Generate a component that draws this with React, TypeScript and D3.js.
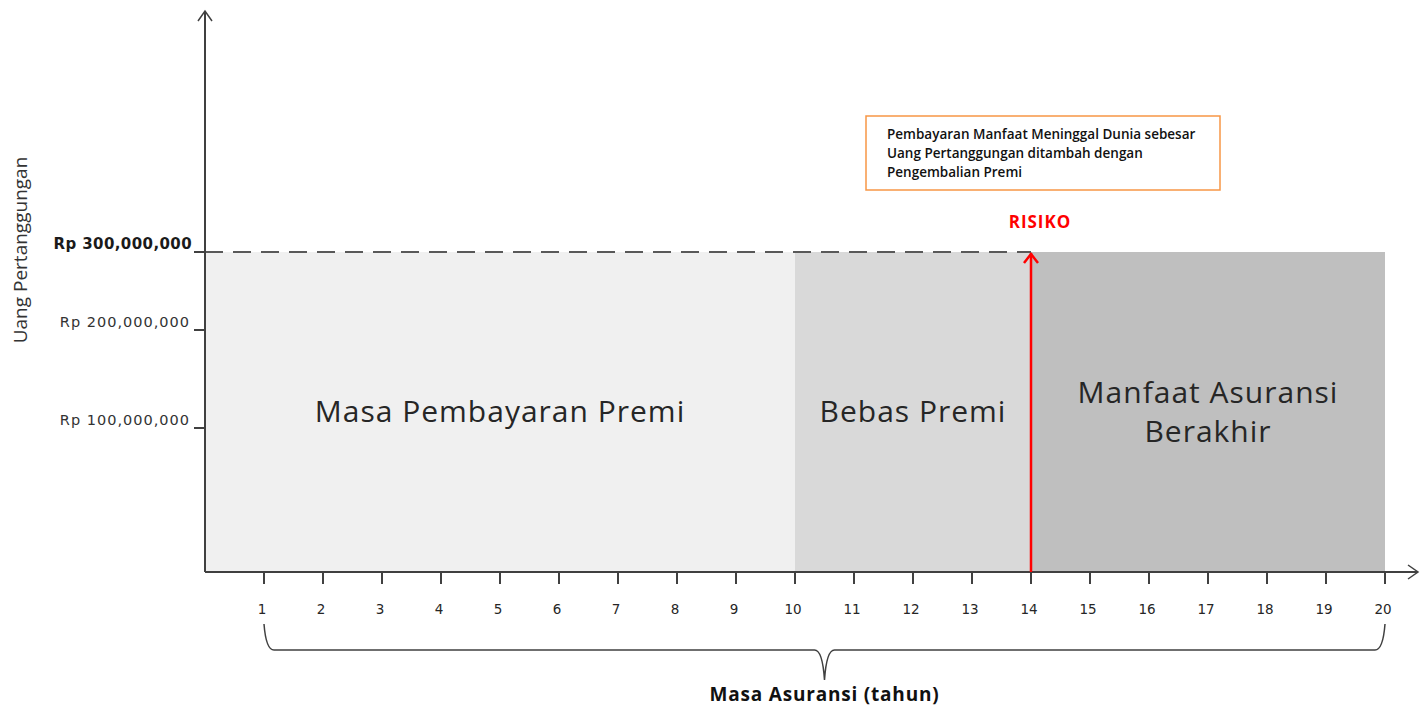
import React, { useEffect, useRef } from "react";
import * as d3 from "d3";

const years = [1, 2, 3, 4, 5, 6, 7, 8, 9, 10, 11, 12, 13, 14, 15, 16, 17, 18, 19, 20];
const yTicks = [100000000, 200000000, 300000000];
const yTickLabels = ["Rp 100,000,000", "Rp 200,000,000", "Rp 300,000,000"];
const phaseNames = [["Masa Pembayaran Premi"], ["Bebas Premi"], ["Manfaat Asuransi", "Berakhir"]];
const phaseStart = [0, 10, 14];
const phaseEnd = [10, 14, 20];
const phaseColors = ["#f0f0f0", "#d9d9d9", "#bfbfbf"];
const sumAssured = 300000000;
const riskYear = 14;
const noteLines = [
  "Pembayaran Manfaat Meninggal Dunia sebesar",
  "Uang Pertanggungan ditambah dengan",
  "Pengembalian Premi",
];

const App = () => {
  const svgRef = useRef<SVGSVGElement>(null);

  useEffect(() => {
    const svg = d3.select(svgRef.current);
    svg.selectAll("*").remove();

    const axisColor = "#404040";
    const baseY = 572;

    const x = d3.scaleLinear().domain([0, 20]).range([205, 1385]);
    // diagram y axis is not evenly spaced, so use a piecewise scale
    const y = d3.scaleLinear()
      .domain([0, 100000000, 200000000, 300000000])
      .range([baseY, 428, 330, 252]);

    // phase blocks
    svg.selectAll("rect.phase")
      .data(phaseStart)
      .join("rect")
      .attr("class", "phase")
      .attr("x", (d) => x(d))
      .attr("y", y(sumAssured))
      .attr("width", (d, i) => x(phaseEnd[i]) - x(d))
      .attr("height", baseY - y(sumAssured))
      .attr("fill", (_, i) => phaseColors[i]);

    // phase labels
    phaseNames.forEach((lines, i) => {
      const cx = (x(phaseStart[i]) + x(phaseEnd[i])) / 2;
      const t = svg.append("text")
        .attr("x", cx)
        .attr("y", lines.length > 1 ? 403 : 422)
        .attr("text-anchor", "middle")
        .attr("font-family", "'Open Sans', sans-serif")
        .attr("font-size", 30)
        .attr("letter-spacing", 1)
        .attr("fill", "#262626");
      lines.forEach((l, j) => {
        t.append("tspan").attr("x", cx).attr("dy", j === 0 ? 0 : 39).text(l);
      });
    });

    // dashed sum assured line
    svg.append("line")
      .attr("x1", x(0))
      .attr("x2", x(riskYear))
      .attr("y1", y(sumAssured))
      .attr("y2", y(sumAssured))
      .attr("stroke", "#595959")
      .attr("stroke-width", 2)
      .attr("stroke-dasharray", "18,10");

    // axes
    svg.append("line")
      .attr("x1", x(0)).attr("x2", 1418)
      .attr("y1", baseY).attr("y2", baseY)
      .attr("stroke", axisColor).attr("stroke-width", 2);
    svg.append("path")
      .attr("d", `M1408,${baseY - 7}L1418,${baseY}L1408,${baseY + 7}`)
      .attr("fill", "none").attr("stroke", axisColor).attr("stroke-width", 1.5);

    svg.append("line")
      .attr("x1", x(0)).attr("x2", x(0))
      .attr("y1", baseY).attr("y2", 11)
      .attr("stroke", axisColor).attr("stroke-width", 2);
    svg.append("path")
      .attr("d", `M${x(0) - 7},21L${x(0)},11L${x(0) + 7},21`)
      .attr("fill", "none").attr("stroke", axisColor).attr("stroke-width", 1.5);

    // x ticks
    svg.selectAll("line.xtick")
      .data(years)
      .join("line")
      .attr("class", "xtick")
      .attr("x1", (d) => x(d)).attr("x2", (d) => x(d))
      .attr("y1", baseY + 1).attr("y2", baseY + 12)
      .attr("stroke", axisColor).attr("stroke-width", 2);

    svg.selectAll("text.xlabel")
      .data(years)
      .join("text")
      .attr("class", "xlabel")
      .attr("x", (d) => x(d) - 2)
      .attr("y", 614)
      .attr("text-anchor", "middle")
      .attr("font-family", "'DejaVu Sans', Verdana, sans-serif")
      .attr("font-size", 13.5)
      .attr("fill", "#262626")
      .text((d) => d);

    // y ticks
    svg.selectAll("line.ytick")
      .data(yTicks)
      .join("line")
      .attr("class", "ytick")
      .attr("x1", x(0) - 11).attr("x2", x(0))
      .attr("y1", (d) => y(d)).attr("y2", (d) => y(d))
      .attr("stroke", axisColor).attr("stroke-width", 2);

    svg.selectAll("text.ylabel")
      .data(yTicks)
      .join("text")
      .attr("class", "ylabel")
      .attr("x", (d) => (d === sumAssured ? 192 : 190))
      .attr("y", (d) => y(d) - 3)
      .attr("text-anchor", "end")
      .attr("font-family", "'DejaVu Sans', Verdana, sans-serif")
      .attr("font-size", (d) => (d === sumAssured ? 15 : 14.5))
      .attr("letter-spacing", (d) => (d === sumAssured ? 0.4 : 1))
      .attr("font-weight", (d) => (d === sumAssured ? "bold" : "normal"))
      .attr("fill", (d) => (d === sumAssured ? "#1a1a1a" : "#333"))
      .text((_, i) => yTickLabels[i]);

    // y axis title
    svg.append("text")
      .attr("transform", "translate(27,250) rotate(-90)")
      .attr("text-anchor", "middle")
      .attr("font-family", "'Open Sans', sans-serif")
      .attr("font-size", 19)
      .attr("fill", "#333")
      .text("Uang Pertanggungan");

    // risk arrow
    svg.append("line")
      .attr("x1", x(riskYear)).attr("x2", x(riskYear))
      .attr("y1", baseY).attr("y2", y(sumAssured) + 1)
      .attr("stroke", "#ff0000").attr("stroke-width", 2.5);
    svg.append("path")
      .attr("d", `M${x(riskYear) - 7},${y(sumAssured) + 11}L${x(riskYear)},${y(sumAssured) + 2}L${x(riskYear) + 7},${y(sumAssured) + 11}`)
      .attr("fill", "none").attr("stroke", "#ff0000").attr("stroke-width", 2.5);

    svg.append("text")
      .attr("x", x(riskYear) + 9)
      .attr("y", 228)
      .attr("text-anchor", "middle")
      .attr("font-family", "'Open Sans', sans-serif")
      .attr("font-weight", "bold")
      .attr("font-size", 17)
      .attr("letter-spacing", 1)
      .attr("fill", "#ff0000")
      .text("RISIKO");

    // annotation box
    svg.append("rect")
      .attr("x", 866).attr("y", 116)
      .attr("width", 354).attr("height", 74)
      .attr("fill", "#fff")
      .attr("stroke", "#f79646").attr("stroke-width", 1.5);
    svg.selectAll("text.note")
      .data(noteLines)
      .join("text")
      .attr("class", "note")
      .attr("x", 887)
      .attr("y", (_, i) => 139 + i * 19)
      .attr("font-family", "'Open Sans', sans-serif")
      .attr("font-weight", 600)
      .attr("font-size", 13.5)
      .attr("fill", "#111")
      .text((d) => d);

    // brace under the x axis
    const bx0 = x(years[0]);
    const bx1 = x(years[years.length - 1]);
    const bmid = x(10.5);
    const top = 624;
    const mid = 650;
    const tip = 680;
    const p = d3.path();
    p.moveTo(bx0, top);
    p.quadraticCurveTo(bx0 + 2, mid, bx0 + 10, mid);
    p.lineTo(bmid - 10, mid);
    p.quadraticCurveTo(bmid - 2, mid, bmid, tip);
    p.quadraticCurveTo(bmid + 2, mid, bmid + 10, mid);
    p.lineTo(bx1 - 10, mid);
    p.quadraticCurveTo(bx1 - 2, mid, bx1, top);
    svg.append("path")
      .attr("d", p.toString())
      .attr("fill", "none")
      .attr("stroke", axisColor)
      .attr("stroke-width", 1.5);

    svg.append("text")
      .attr("x", bmid)
      .attr("y", 701)
      .attr("text-anchor", "middle")
      .attr("font-family", "'Open Sans', sans-serif")
      .attr("font-weight", "bold")
      .attr("font-size", 19)
      .attr("letter-spacing", 0.8)
      .attr("fill", "#111")
      .text("Masa Asuransi (tahun)");
  }, []);

  return (
    <svg
      ref={svgRef}
      width={1427}
      height={706}
      style={{ position: "absolute", left: 0, top: 0, background: "#fff" }}
    />
  );
};

export default App;
